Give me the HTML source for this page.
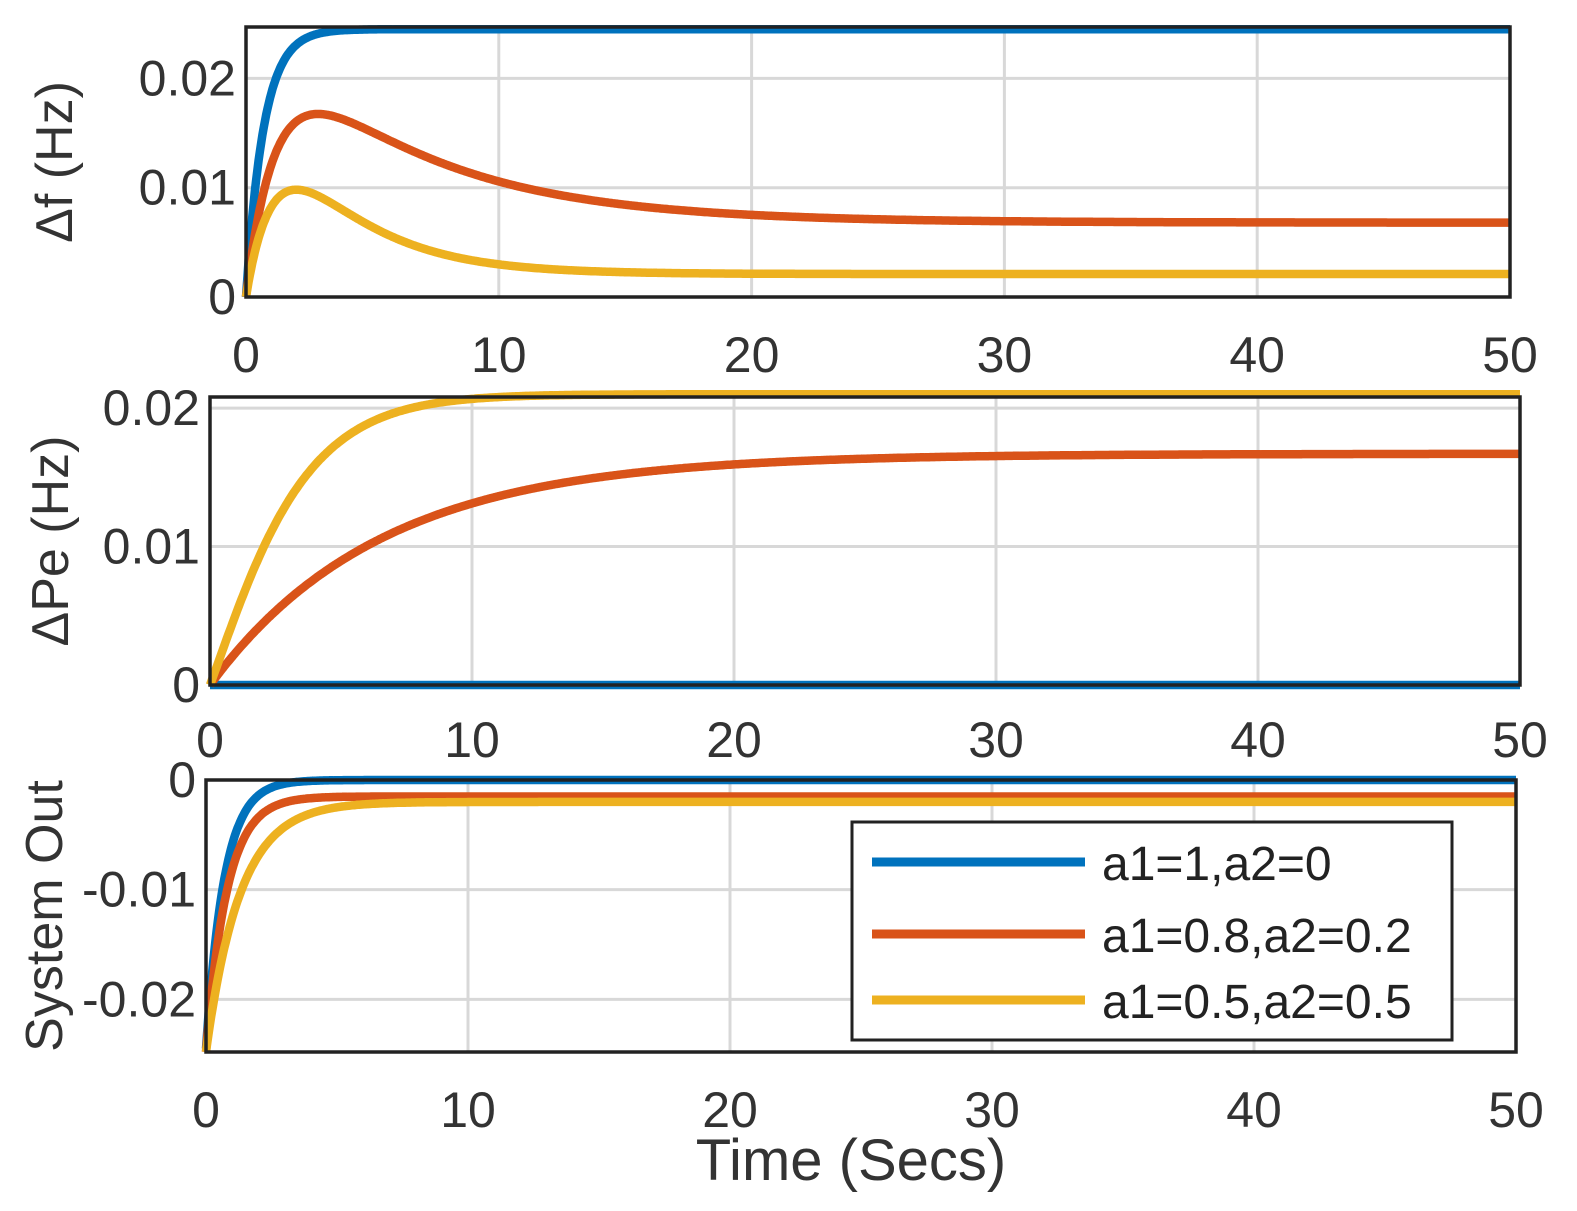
<!DOCTYPE html>
<html><head><meta charset="utf-8"><style>
html,body{margin:0;padding:0;background:#fff;}
svg{display:block;font-family:"Liberation Sans",sans-serif;}
</style></head><body>
<svg id="s" width="1577" height="1211" viewBox="0 0 1577 1211" xmlns="http://www.w3.org/2000/svg"></svg>
<script>
const S=document.getElementById('s');let h='';
const C={b:'#0072BD',r:'#D95319',y:'#EDB120'};
function panel(L,R,T,B,ymin,ymax,yt,ylab,xtY,curves,ylabX){
 const X=t=>L+(R-L)*t/50, Y=v=>B-(B-T)*(v-ymin)/(ymax-ymin);
 h+=`<rect x="${L}" y="${T}" width="${R-L}" height="${B-T}" fill="#fff"/>`;
 for(let t=10;t<50;t+=10)h+=`<line x1="${X(t)}" y1="${T}" x2="${X(t)}" y2="${B}" stroke="#d8d8d8" stroke-width="3"/>`;
 yt.forEach(v=>{if(Math.abs(Y(v)-T)>3&&Math.abs(Y(v)-B)>3)h+=`<line x1="${L}" y1="${Y(v)}" x2="${R}" y2="${Y(v)}" stroke="#d8d8d8" stroke-width="3"/>`;});
 curves.forEach(([f,c])=>{let d='';for(let i=0;i<=1000;i++){const t=i*0.05;d+=(i?'L':'M')+X(t).toFixed(1)+' '+Y(f(t)).toFixed(1);}
  h+=`<path d="${d}" fill="none" stroke="${c}" stroke-width="8.5" stroke-linejoin="round"/>`;});
 h+=`<rect x="${L}" y="${T}" width="${R-L}" height="${B-T}" fill="none" stroke="#222" stroke-width="3.5"/>`;
 for(let t=0;t<=50;t+=10)h+=`<text x="${X(t)}" y="${xtY}" font-size="50" text-anchor="middle" fill="#333">${t}</text>`;
 yt.forEach(v=>h+=`<text x="${L-10}" y="${Y(v)+17}" font-size="50" text-anchor="end" fill="#333">${v==0?'0':v.toFixed(2)}</text>`);
 h+=`<text transform="translate(${ylabX},${(T+B)/2}) rotate(-90)" font-size="52" text-anchor="middle" fill="#333">${ylab}</text>`;
}
const E=Math.exp;
const pk=(ss,A,tr,td)=>t=>ss*(1-E(-t/tr))+A*(E(-t/td)-E(-t/tr));
panel(246,1510,27,297,0,0.0247,[0,0.01,0.02],'Δf (Hz)',372,[
 [t=>0.0245*(1-E(-t/0.7)),C.b],[pk(0.0068,0.02,1.2,6),C.r],[pk(0.0021,0.025,1.2,3),C.y]],72);
panel(210,1520,397,685,0,0.0208,[0,0.01,0.02],'ΔPe (Hz)',757,[
 [t=>0,C.b],[t=>0.0167*(1-E(-t/6.5)),C.r],[t=>0.021*(1-(1+t/3.2)*E(-t/1.8))*(1-E(-t/1.2)*0)+0*t,C.y]],68);
panel(206,1516,780,1052,-0.0248,0,[0,-0.01,-0.02],'System Out',1127,[
 [t=>-0.0245*E(-t/0.7),C.b],[t=>-0.0015-0.0233*E(-t/0.8),C.r],[t=>-0.002-0.0228*E(-t/1.3),C.y]],62);
h+=`<rect x="852" y="822" width="600" height="218" fill="#fff" stroke="#222" stroke-width="3"/>`;
[['a1=1,a2=0',C.b,862],['a1=0.8,a2=0.2',C.r,934],['a1=0.5,a2=0.5',C.y,1000]].forEach(([s,c,y])=>{
 h+=`<line x1="872" y1="${y}" x2="1085" y2="${y}" stroke="${c}" stroke-width="9"/><text x="1102" y="${y+18}" font-size="48" fill="#222">${s}</text>`;});
h+=`<text x="851" y="1180" font-size="58" text-anchor="middle" fill="#333">Time (Secs)</text>`;
S.innerHTML=h;
</script>
</body></html>
